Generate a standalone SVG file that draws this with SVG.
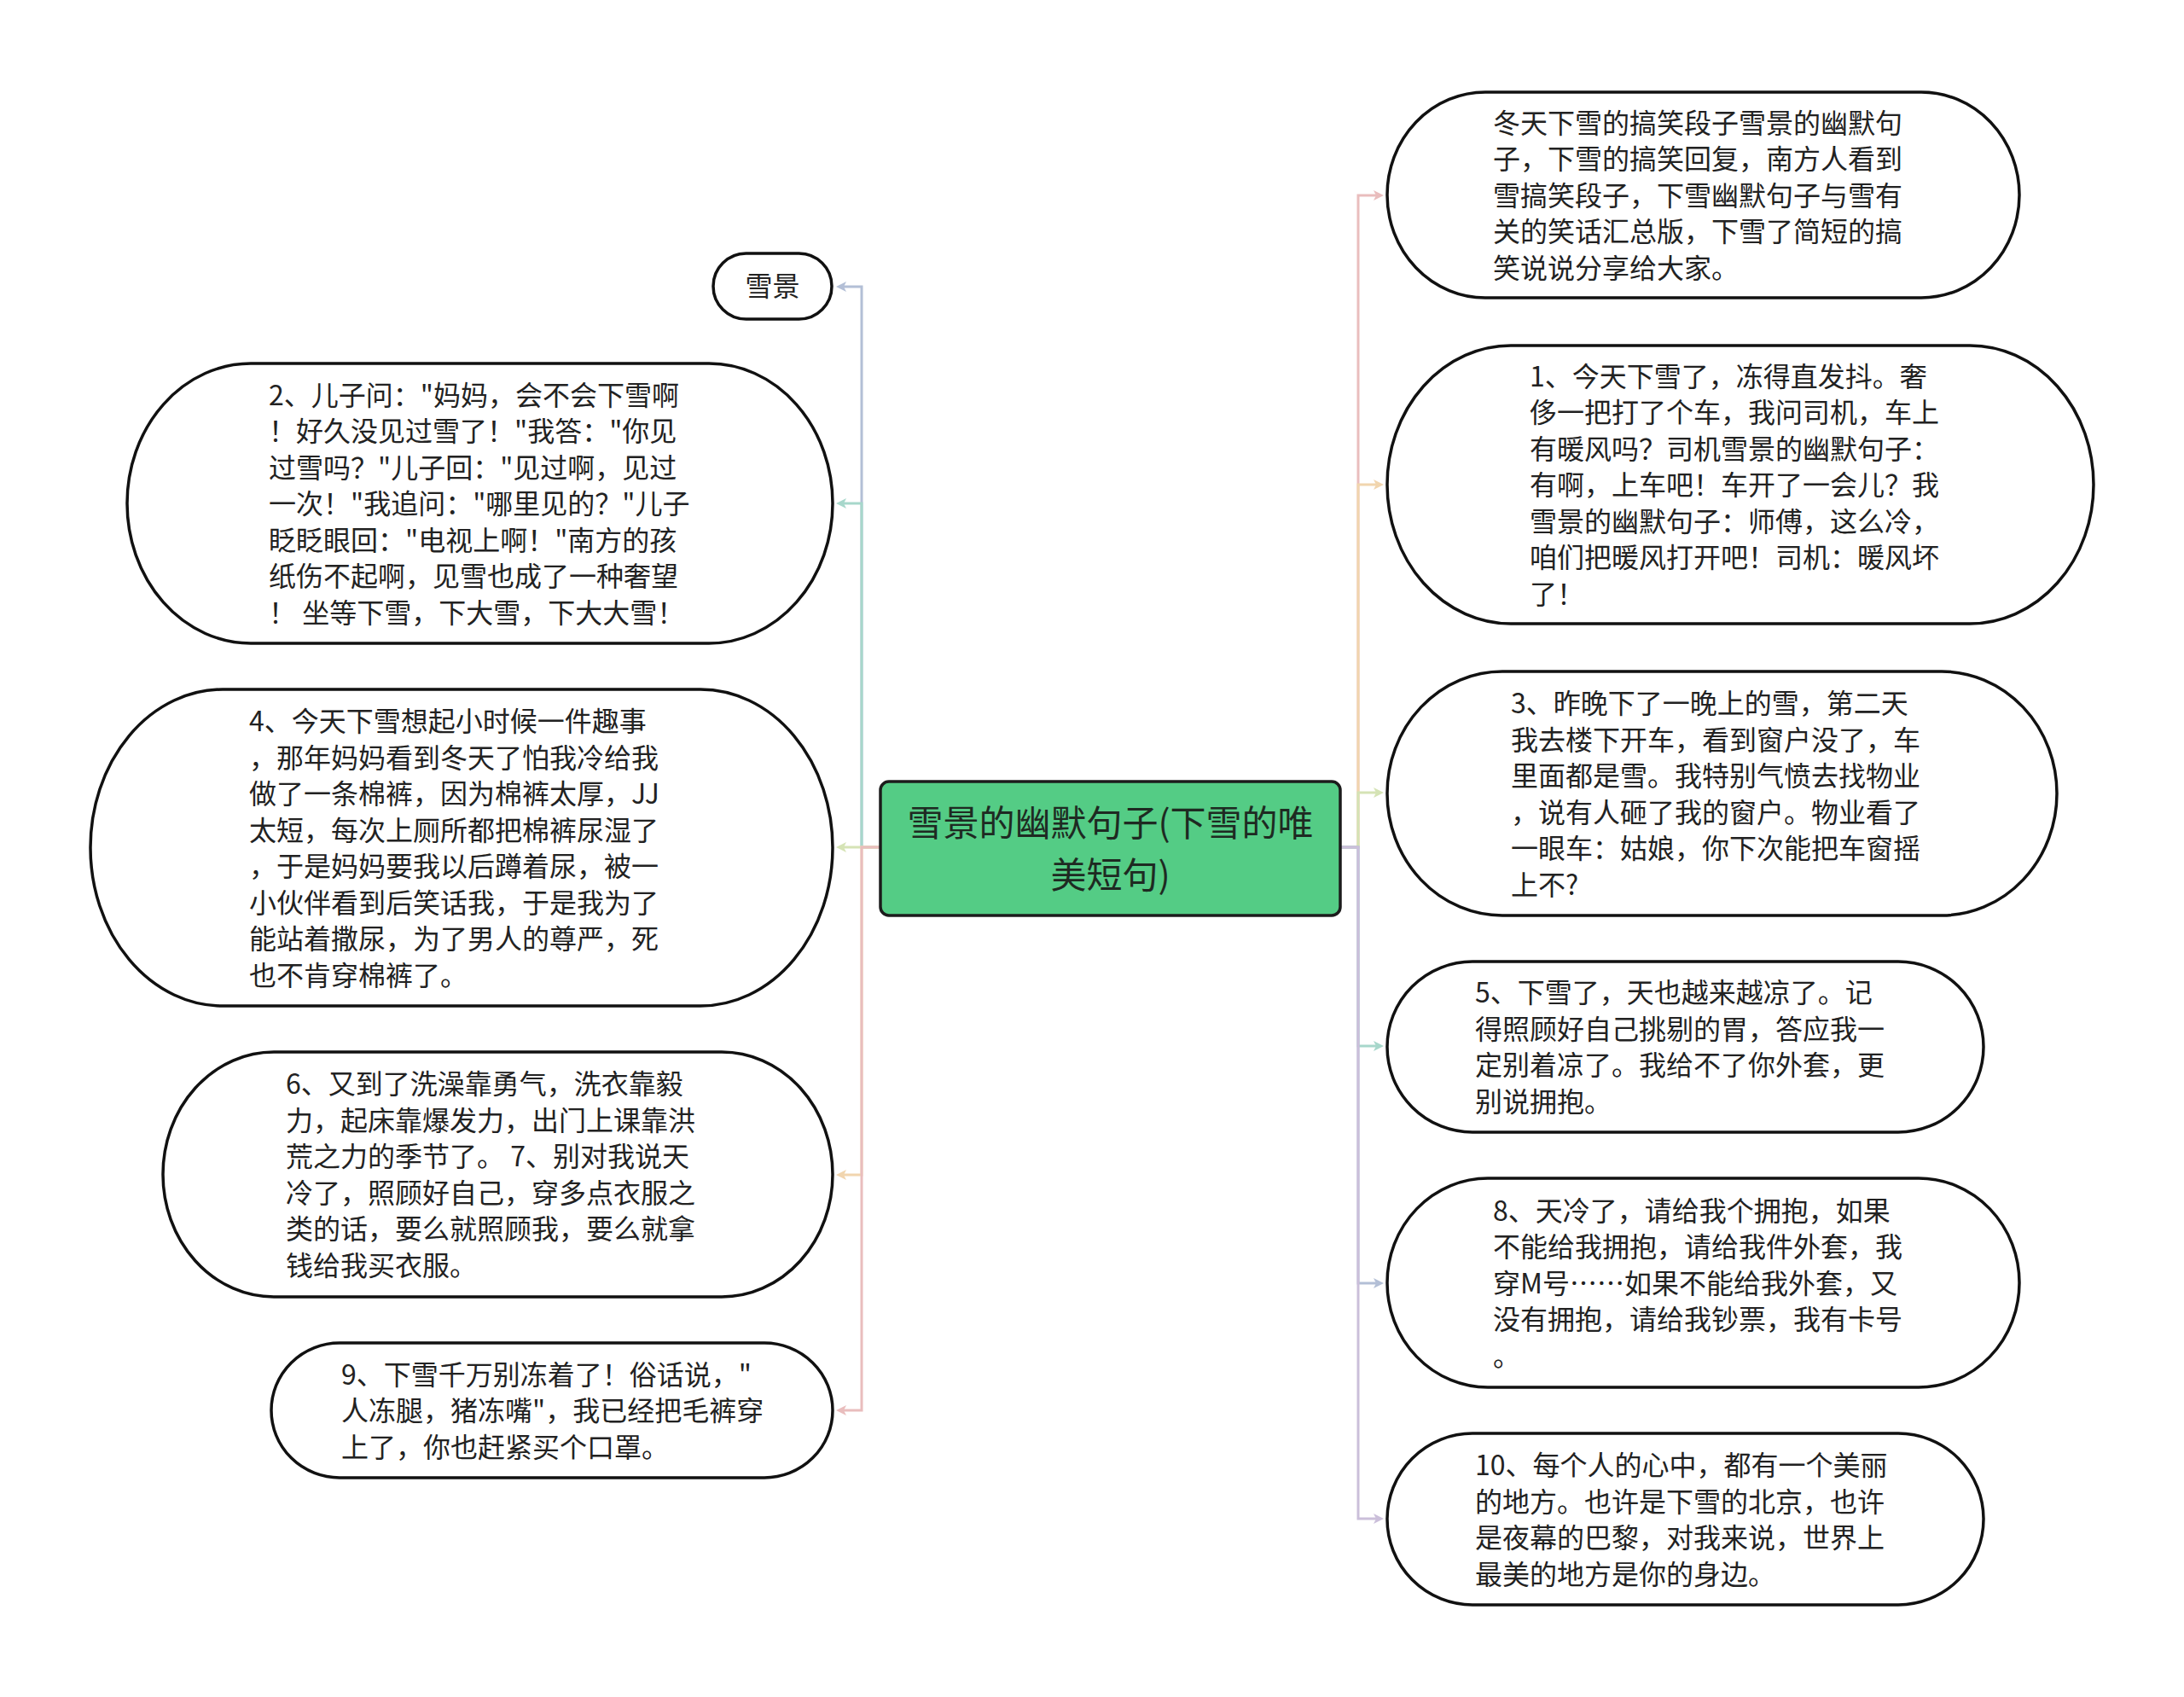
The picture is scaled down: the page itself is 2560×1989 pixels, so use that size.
<svg xmlns="http://www.w3.org/2000/svg" width="2560" height="1989" viewBox="0 0 2560 1989">
<defs>
<style>
.node{fill:#ffffff;stroke:#111111;stroke-width:3.5}
.root{fill:#54cc85;stroke:#1c1c1c;stroke-width:3.5}
.t{font-family:"Noto Sans CJK SC","Noto Sans",sans-serif;font-size:32px;fill:#222222}
.rt{font-family:"Noto Sans CJK SC","Noto Sans",sans-serif;font-size:42px;fill:#1e2a22;text-anchor:middle}
.c{fill:none;stroke-width:3}
</style>
<marker id="m-blue" viewBox="0 0 12 12" refX="3" refY="6" markerWidth="12" markerHeight="12" markerUnits="userSpaceOnUse" orient="auto"><path d="M0,0 L12,6 L0,12 L3,6 Z" fill="#b3bfd6"/></marker>
<marker id="m-teal" viewBox="0 0 12 12" refX="3" refY="6" markerWidth="12" markerHeight="12" markerUnits="userSpaceOnUse" orient="auto"><path d="M0,0 L12,6 L0,12 L3,6 Z" fill="#a7d7cb"/></marker>
<marker id="m-green" viewBox="0 0 12 12" refX="3" refY="6" markerWidth="12" markerHeight="12" markerUnits="userSpaceOnUse" orient="auto"><path d="M0,0 L12,6 L0,12 L3,6 Z" fill="#d5e3b5"/></marker>
<marker id="m-peach" viewBox="0 0 12 12" refX="3" refY="6" markerWidth="12" markerHeight="12" markerUnits="userSpaceOnUse" orient="auto"><path d="M0,0 L12,6 L0,12 L3,6 Z" fill="#f1d5ae"/></marker>
<marker id="m-pink" viewBox="0 0 12 12" refX="3" refY="6" markerWidth="12" markerHeight="12" markerUnits="userSpaceOnUse" orient="auto"><path d="M0,0 L12,6 L0,12 L3,6 Z" fill="#e9bdbd"/></marker>
<marker id="m-lav" viewBox="0 0 12 12" refX="3" refY="6" markerWidth="12" markerHeight="12" markerUnits="userSpaceOnUse" orient="auto"><path d="M0,0 L12,6 L0,12 L3,6 Z" fill="#cbbfda"/></marker>
</defs>
<rect width="2560" height="1989" fill="#ffffff"/>

<g id="connectors">
<path class="c" stroke="#b3bfd6" marker-end="url(#m-blue)" d="M1032,993 H1010 V336 H989"/>
<path class="c" stroke="#a7d7cb" marker-end="url(#m-teal)" d="M1032,993 H1010 V590 H989"/>
<path class="c" stroke="#d5e3b5" marker-end="url(#m-green)" d="M1032,993 H989"/>
<path class="c" stroke="#f1d5ae" marker-end="url(#m-peach)" d="M1032,993 H1010 V1377 H989"/>
<path class="c" stroke="#e9bdbd" marker-end="url(#m-pink)" d="M1032,993 H1010 V1653 H989"/>
<path class="c" stroke="#e9bdbd" marker-end="url(#m-pink)" d="M1571,993 H1592 V229 H1613"/>
<path class="c" stroke="#f1d5ae" marker-end="url(#m-peach)" d="M1571,993 H1592 V568 H1613"/>
<path class="c" stroke="#d5e3b5" marker-end="url(#m-green)" d="M1571,993 H1592 V929 H1613"/>
<path class="c" stroke="#a7d7cb" marker-end="url(#m-teal)" d="M1571,993 H1592 V1226 H1613"/>
<path class="c" stroke="#b3bfd6" marker-end="url(#m-blue)" d="M1571,993 H1592 V1504 H1613"/>
<path class="c" stroke="#cbbfda" marker-end="url(#m-lav)" d="M1571,993 H1592 V1780 H1613"/>
</g>

<g id="root">
<rect class="root" x="1032" y="916" width="539" height="157" rx="10"/>
<text class="rt"><tspan x="1301.5" y="979.5">雪景的幽默句子(下雪的唯</tspan><tspan x="1301.5" y="1040.5">美短句)</tspan></text>
</g>

<g id="n-xuejing">
<rect class="node" x="836" y="297" width="139" height="77" rx="38.5"/>
<text class="t" x="905.5" y="347" text-anchor="middle">雪景</text>
</g>

<g id="n-2">
<rect class="node" x="149" y="426" width="827" height="328" rx="145" ry="164"/>
<text class="t">
<tspan x="315" y="474.5">2、儿子问："妈妈，会不会下雪啊</tspan>
<tspan x="315" y="517">！好久没见过雪了！"我答："你见</tspan>
<tspan x="315" y="559.5">过雪吗？"儿子回："见过啊，见过</tspan>
<tspan x="315" y="602">一次！"我追问："哪里见的？"儿子</tspan>
<tspan x="315" y="644.5">眨眨眼回："电视上啊！"南方的孩</tspan>
<tspan x="315" y="687">纸伤不起啊，见雪也成了一种奢望</tspan>
<tspan x="315" y="729.5">！ 坐等下雪，下大雪，下大大雪！</tspan>
</text>
</g>

<g id="n-4">
<rect class="node" x="106" y="808" width="870" height="371" rx="155" ry="185.5"/>
<text class="t">
<tspan x="292" y="857">4、今天下雪想起小时候一件趣事</tspan>
<tspan x="292" y="899.5">，那年妈妈看到冬天了怕我冷给我</tspan>
<tspan x="292" y="942">做了一条棉裤，因为棉裤太厚，JJ</tspan>
<tspan x="292" y="984.5">太短，每次上厕所都把棉裤尿湿了</tspan>
<tspan x="292" y="1027">，于是妈妈要我以后蹲着尿，被一</tspan>
<tspan x="292" y="1069.5">小伙伴看到后笑话我，于是我为了</tspan>
<tspan x="292" y="1112">能站着撒尿，为了男人的尊严，死</tspan>
<tspan x="292" y="1154.5">也不肯穿棉裤了。</tspan>
</text>
</g>

<g id="n-6">
<rect class="node" x="191" y="1233" width="785" height="287" rx="130" ry="143.5"/>
<text class="t">
<tspan x="335" y="1282">6、又到了洗澡靠勇气，洗衣靠毅</tspan>
<tspan x="335" y="1324.5">力，起床靠爆发力，出门上课靠洪</tspan>
<tspan x="335" y="1367">荒之力的季节了。 7、别对我说天</tspan>
<tspan x="335" y="1409.5">冷了，照顾好自己，穿多点衣服之</tspan>
<tspan x="335" y="1452">类的话，要么就照顾我，要么就拿</tspan>
<tspan x="335" y="1494.5">钱给我买衣服。</tspan>
</text>
</g>

<g id="n-9">
<rect class="node" x="318" y="1574" width="658" height="158" rx="80" ry="79"/>
<text class="t">
<tspan x="400" y="1622.5">9、下雪千万别冻着了！俗话说，"</tspan>
<tspan x="400" y="1665">人冻腿，猪冻嘴"，我已经把毛裤穿</tspan>
<tspan x="400" y="1707.5">上了，你也赶紧买个口罩。</tspan>
</text>
</g>

<g id="n-intro">
<rect class="node" x="1626" y="108" width="741" height="241" rx="115" ry="120.5"/>
<text class="t">
<tspan x="1750" y="155.5">冬天下雪的搞笑段子雪景的幽默句</tspan>
<tspan x="1750" y="198">子，下雪的搞笑回复，南方人看到</tspan>
<tspan x="1750" y="240.5">雪搞笑段子，下雪幽默句子与雪有</tspan>
<tspan x="1750" y="283">关的笑话汇总版，下雪了简短的搞</tspan>
<tspan x="1750" y="325.5">笑说说分享给大家。</tspan>
</text>
</g>

<g id="n-1">
<rect class="node" x="1626" y="405" width="828" height="326" rx="145" ry="163"/>
<text class="t">
<tspan x="1793" y="452.5">1、今天下雪了，冻得直发抖。奢</tspan>
<tspan x="1793" y="495">侈一把打了个车，我问司机，车上</tspan>
<tspan x="1793" y="537.5">有暖风吗？司机雪景的幽默句子：</tspan>
<tspan x="1793" y="580">有啊，上车吧！车开了一会儿？我</tspan>
<tspan x="1793" y="622.5">雪景的幽默句子：师傅，这么冷，</tspan>
<tspan x="1793" y="665">咱们把暖风打开吧！司机：暖风坏</tspan>
<tspan x="1793" y="707.5">了！</tspan>
</text>
</g>

<g id="n-3">
<rect class="node" x="1626" y="787" width="785" height="286" rx="135" ry="143"/>
<text class="t">
<tspan x="1771" y="836">3、昨晚下了一晚上的雪，第二天</tspan>
<tspan x="1771" y="878.5">我去楼下开车，看到窗户没了，车</tspan>
<tspan x="1771" y="921">里面都是雪。我特别气愤去找物业</tspan>
<tspan x="1771" y="963.5">，说有人砸了我的窗户。物业看了</tspan>
<tspan x="1771" y="1006">一眼车：姑娘，你下次能把车窗摇</tspan>
<tspan x="1771" y="1048.5">上不?</tspan>
</text>
</g>

<g id="n-5">
<rect class="node" x="1626" y="1127" width="699" height="200" rx="100" ry="100"/>
<text class="t">
<tspan x="1729" y="1175">5、下雪了，天也越来越凉了。记</tspan>
<tspan x="1729" y="1217.5">得照顾好自己挑剔的胃，答应我一</tspan>
<tspan x="1729" y="1260">定别着凉了。我给不了你外套，更</tspan>
<tspan x="1729" y="1302.5">别说拥抱。</tspan>
</text>
</g>

<g id="n-8">
<rect class="node" x="1626" y="1381" width="741" height="245" rx="118" ry="122.5"/>
<text class="t">
<tspan x="1750" y="1430.5">8、天冷了，请给我个拥抱，如果</tspan>
<tspan x="1750" y="1473">不能给我拥抱，请给我件外套，我</tspan>
<tspan x="1750" y="1515.5">穿M号……如果不能给我外套，又</tspan>
<tspan x="1750" y="1558">没有拥抱，请给我钞票，我有卡号</tspan>
<tspan x="1750" y="1600.5">。</tspan>
</text>
</g>

<g id="n-10">
<rect class="node" x="1626" y="1680" width="699" height="201" rx="100" ry="100.5"/>
<text class="t">
<tspan x="1729" y="1729">10、每个人的心中，都有一个美丽</tspan>
<tspan x="1729" y="1771.5">的地方。也许是下雪的北京，也许</tspan>
<tspan x="1729" y="1814">是夜幕的巴黎，对我来说，世界上</tspan>
<tspan x="1729" y="1856.5">最美的地方是你的身边。</tspan>
</text>
</g>
</svg>
